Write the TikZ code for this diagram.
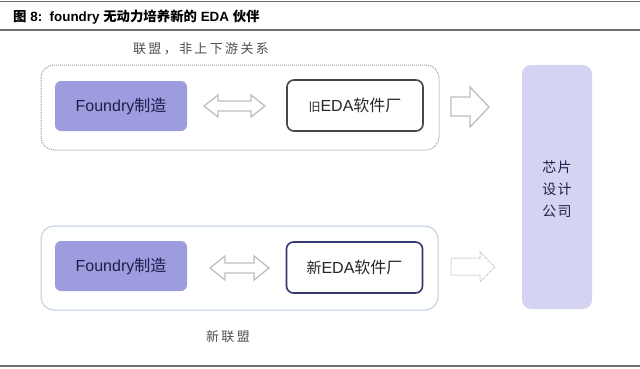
\documentclass[tikz,border=0pt]{standalone}
\usepackage{fontspec}
\setmainfont{Liberation Sans}
\newfontfamily\cjk{Noto Sans CJK SC}
\newfontfamily\cjkw[LetterSpace=18]{Noto Sans CJK SC}
\newfontfamily\cjkc[LetterSpace=8]{Noto Sans CJK SC}
\definecolor{fpurple}{RGB}{156,156,222}
\definecolor{chipfill}{RGB}{212,212,242}
\definecolor{navytext}{RGB}{30,30,75}
\definecolor{newborder}{RGB}{55,55,115}
\definecolor{oldborder}{RGB}{70,70,70}
\definecolor{grpblue}{RGB}{190,205,225}
\definecolor{arrowgray}{RGB}{190,190,190}
\definecolor{rulegray}{RGB}{110,110,110}
\definecolor{labelgray}{RGB}{80,80,80}
\begin{document}
\begin{tikzpicture}[x=1pt,y=-1pt,
  fbox/.style={rectangle,rounded corners=6pt,fill=fpurple,minimum width=132pt,minimum height=50pt,inner sep=0pt,text=navytext,font=\fontsize{16}{18}\selectfont},
  edabox/.style={rectangle,rounded corners=7pt,fill=white,line width=1.6pt,minimum width=136pt,minimum height=51pt,inner sep=0pt,text=black!85,font=\fontsize{16}{18}\selectfont},
  grplabel/.style={text=labelgray,font=\cjkw\fontsize{13}{15}\selectfont,inner sep=0pt},
  blockarrow/.style={draw=arrowgray,line width=1.3pt,fill=white,line join=miter}
]
\useasboundingbox (0,0) rectangle (640,368);
\fill[white] (0,0) rectangle (640,368);
% rules
\draw[rulegray,line width=1.4pt] (0,1.5) -- (640,1.5);
\draw[rulegray,line width=1.4pt] (0,30) -- (640,30);
\draw[rulegray,line width=1.4pt] (0,366) -- (640,366);
\node[anchor=base west,inner sep=0pt,font=\bfseries\fontsize{13.4}{15}\selectfont] (title) at (13,21)
  {{\cjk\bfseries 图} 8:\ \ foundry {\cjk\bfseries 无动力培养新的} EDA {\cjk\bfseries 伙伴}};
% groups
\draw[gray!75,line width=1pt,densely dotted,rounded corners=13pt] (41,65) rectangle (439,150);
\draw[grpblue,line width=1pt,rounded corners=13pt] (41,226) rectangle (438,310);
\node[grplabel] (lab1) at (201,49) {联盟，非上下游关系};
\node[grplabel] (lab2) at (228,337) {新联盟};
% nodes
\node[fbox] (f1) at (121,106) {Foundry{\cjk 制造}};
\node[edabox,draw=oldborder] (old) at (355,105.5) {{\cjk\fontsize{12}{14}\selectfont 旧}EDA{\cjk 软件厂}};
\node[fbox] (f2) at (121,266) {Foundry{\cjk 制造}};
\node[edabox,draw=newborder] (new) at (354.5,267.5) {{\cjk\fontsize{15}{17}\selectfont 新}EDA{\cjk 软件厂}};
\node[rectangle,rounded corners=9pt,fill=chipfill,minimum width=70pt,minimum height=244pt,inner sep=0pt] (chip) at (557,187) {};
\node[align=center,inner sep=0pt,text=navytext,font=\cjkc\fontsize{14}{22}\selectfont] (chiptext) at (557,189.5) {芯片\\设计\\公司};
% double arrows
\draw[blockarrow] (204,106) -- (218,95) -- (218,101) -- (251,101) -- (251,95) -- (265,106)
  -- (251,117) -- (251,111) -- (218,111) -- (218,117) -- cycle;
\draw[blockarrow] (210,268) -- (225,256) -- (225,263) -- (254,263) -- (254,256) -- (269,268)
  -- (254,280) -- (254,273) -- (225,273) -- (225,280) -- cycle;
% single arrows
\draw[blockarrow] (451,97) -- (470,97) -- (470,87) -- (489,107) -- (470,127) -- (470,116) -- (451,116) -- cycle;
\draw[blockarrow,draw=gray!55,line width=1pt,densely dotted] (451,258) -- (480,258) -- (480,252) -- (495,267) -- (480,282) -- (480,275) -- (451,275) -- cycle;
\end{tikzpicture}
\end{document}
